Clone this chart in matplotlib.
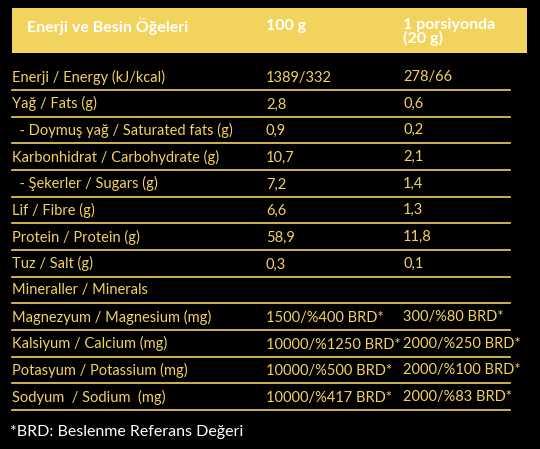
import matplotlib
matplotlib.use("Agg")
import matplotlib.pyplot as plt
from matplotlib.patches import Rectangle

headers = ["Enerji ve Besin Öğeleri", "100 g", "1 porsiyonda\n(20 g)"]
labels = ["Enerji / Energy (kJ/kcal)", "Yağ / Fats (g)", "  - Doymuş yağ / Saturated fats (g)",
          "Karbonhidrat / Carbohydrate (g)", "  - Şekerler / Sugars (g)", "Lif / Fibre (g)",
          "Protein / Protein (g)", "Tuz / Salt (g)", "Mineraller / Minerals",
          "Magnezyum / Magnesium (mg)", "Kalsiyum / Calcium (mg)", "Potasyum / Potassium (mg)",
          "Sodyum  / Sodium  (mg)"]
per100 = ["1389/332", "2,8", "0,9", "10,7", "7,2", "6,6", "58,9", "0,3", "",
          "1500/%400 BRD*", "10000/%1250 BRD*", "10000/%500 BRD*", "10000/%417 BRD*"]
perServ = ["278/66", "0,6", "0,2", "2,1", "1,4", "1,3", "11,8", "0,1", "",
           "300/%80 BRD*", "2000/%250 BRD*", "2000/%100 BRD*", "2000/%83 BRD*"]
footnote = "*BRD: Beslenme Referans Değeri"

W, H = 540, 449
Y = "#F2D35E"
fig = plt.figure(figsize=(W/100, H/100), dpi=100, facecolor="black")
ax = fig.add_axes([0, 0, 1, 1])
ax.set_xlim(0, W); ax.set_ylim(H, 0); ax.axis("off")
ax.set_facecolor("black")
plt.rcParams['font.family'] = ['Lato', 'DejaVu Sans']

ax.add_patch(Rectangle((12, 8), 515, 45, facecolor=Y, edgecolor="none"))
ax.text(27, 26, headers[0], color="white", fontsize=11.5, fontweight="bold", va="center")
ax.text(266, 26, headers[1], color="white", fontsize=11.5, fontweight="bold", va="center")
ax.text(403, 32, headers[2], color="white", fontsize=11.5, fontweight="bold", va="center", linespacing=0.95)

x0s = [12, 266, 403]
for i, (l, a, b) in enumerate(zip(labels, per100, perServ)):
    yl = 90 + 26.67 * i
    yt = yl - 13
    ax.text(x0s[0], yt, l, color=Y, fontsize=10.5, va="center")
    ax.text(x0s[1], yt + 1, a, color=Y, fontsize=10.5, va="center")
    ax.text(x0s[2], yt, b, color=Y, fontsize=10.5, va="center")
    ax.plot([12, 510], [yl, yl], color=Y, lw=1.2)

ax.text(10, 432, footnote, color="white", fontsize=11.5, va="center")
fig.savefig("out.png", dpi=100, facecolor="black")
